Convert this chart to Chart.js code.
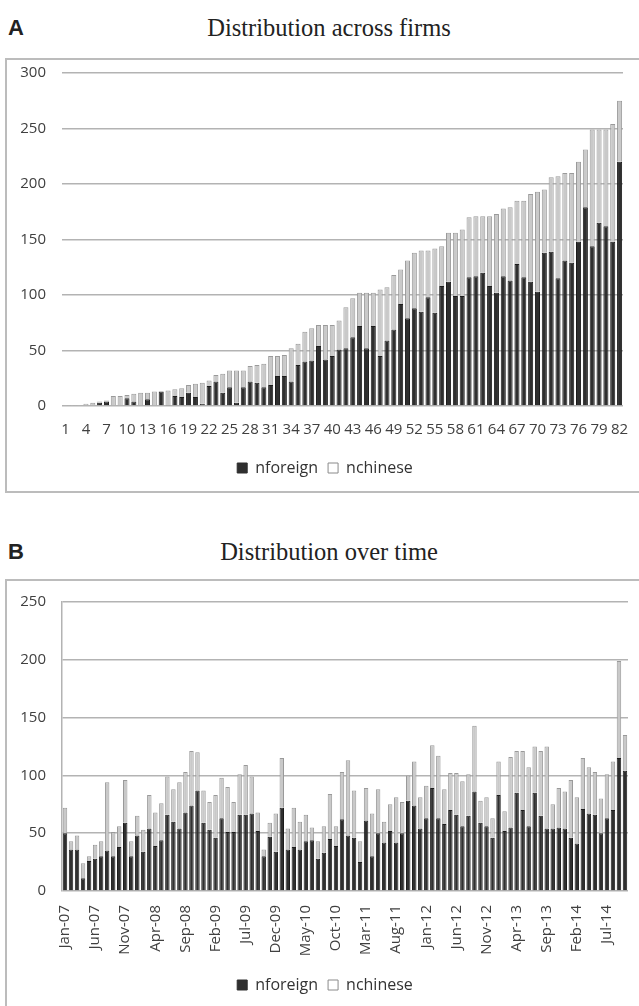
<!DOCTYPE html>
<html>
<head>
<meta charset="utf-8">
<script src="https://cdn.jsdelivr.net/npm/chart.js@4.4.0/dist/chart.umd.min.js"></script>
<style>
  body { margin: 0; background: #fff; width: 639px; height: 1006px; overflow: hidden; position: relative; }
  .letter { position: absolute; left: 8px; font: bold 22px "Liberation Sans", Arial, sans-serif; color: #222; line-height: 24px; }
  .title { position: absolute; left: 5px; width: 648px; text-align: center; font: 24.5px "Liberation Serif", "Times New Roman", serif; color: #222; line-height: 26px; }
  .frame { position: absolute; left: 5px; width: 700px; border: 2px solid #bcbcbc; box-sizing: border-box; }
  .box { position: absolute; left: 5px; width: 648px; }
</style>
</head>
<body>
<div class="letter" style="top:16px">A</div>
<div class="title" style="top:15px">Distribution across firms</div>
<div class="frame" style="top:58px;height:435px"></div>
<div class="box" style="top:58px;height:434px"><canvas id="chartA" width="648" height="434"></canvas></div>

<div class="letter" style="top:540px">B</div>
<div class="title" style="top:539px">Distribution over time</div>
<div class="frame" style="top:579px;height:500px"></div>
<div class="box" style="top:579px;height:427px"><canvas id="chartB" width="648" height="427"></canvas></div>

<script>
// Panel A: firms sorted by total count
const firmLabels = Array.from({ length: 82 }, (_, i) => String(i + 1));
const foreignA = [0, 0, 0, 0, 0, 3, 4, 0, 0, 7, 4, 0, 6, 0, 13, 1, 9, 8, 12, 8,
    2, 18, 22, 12, 17, 3, 17, 22, 21, 17, 19, 27, 27, 22, 37, 40, 41, 54, 42, 45,
    51, 52, 62, 72, 52, 72, 45, 59, 69, 92, 79, 88, 85, 98, 84, 108, 112, 99, 99, 116,
    117, 120, 108, 102, 117, 113, 128, 116, 112, 103, 138, 139, 115, 131, 129, 148, 179, 144, 165, 162,
    148, 220];
const chineseA = [1, 1, 1, 2, 3, 1, 1, 9, 9, 3, 7, 12, 6, 13, 0, 13, 6, 8, 7, 12,
    19, 5, 6, 17, 15, 29, 15, 14, 16, 21, 26, 18, 19, 30, 19, 27, 29, 19, 31, 28,
    26, 37, 35, 30, 50, 30, 60, 48, 49, 31, 52, 50, 55, 42, 58, 36, 44, 57, 60, 54,
    54, 51, 63, 71, 61, 66, 57, 69, 79, 90, 57, 67, 92, 79, 81, 72, 52, 105, 84, 87,
    106, 55];
const ticksA = [0, 50, 100, 150, 200, 250, 300];

// Panel B: monthly counts, Jan-07 .. Oct-14
const monthNames = ['Jan', 'Feb', 'Mar', 'Apr', 'May', 'Jun', 'Jul', 'Aug', 'Sep', 'Oct', 'Nov', 'Dec'];
const years = ['07', '08', '09', '10', '11', '12', '13', '14'];
const foreignB = [50, 36, 36, 11, 26, 28, 30, 35, 30, 38, 59, 30, 48, 34, 54, 39, 44, 66, 60, 54,
    68, 74, 87, 59, 53, 46, 63, 51, 51, 66, 66, 67, 52, 30, 47, 34, 72, 36, 38, 36,
    43, 44, 28, 33, 45, 39, 62, 48, 46, 25, 61, 30, 50, 42, 52, 42, 50, 78, 74, 54,
    63, 89, 63, 58, 70, 66, 56, 65, 86, 59, 56, 46, 83, 52, 55, 85, 70, 56, 85, 65,
    54, 54, 55, 54, 46, 41, 71, 67, 66, 50, 63, 70, 115, 104];
const chineseB = [22, 7, 12, 13, 4, 12, 13, 59, 21, 18, 37, 13, 17, 19, 29, 29, 32, 33, 28, 40,
    35, 47, 33, 28, 24, 37, 35, 39, 26, 35, 43, 32, 16, 6, 12, 33, 43, 18, 34, 24,
    23, 11, 15, 23, 39, 17, 41, 65, 41, 18, 28, 37, 38, 18, 23, 39, 27, 22, 38, 27,
    28, 37, 54, 30, 32, 36, 39, 36, 57, 19, 25, 17, 29, 17, 61, 36, 51, 51, 40, 56,
    71, 21, 34, 32, 50, 40, 44, 40, 37, 30, 38, 42, 84, 31];
const ticksB = [0, 50, 100, 150, 200, 250];

const monthLabels = [];
for (let y of years) {
    for (let m of monthNames) {
        if (monthLabels.length < foreignB.length) monthLabels.push(m + '-' + y);
    }
}

const darkFill = '#2f2f2f';
const lightFill = '#c9c9c9';
const gridColor = '#b3b3b3';
const tickFont = { family: 'Open Sans', size: 15 };

function legendLabels(chart) {
    const items = Chart.defaults.plugins.legend.labels.generateLabels(chart);
    items[0].fillStyle = darkFill;
    items[0].strokeStyle = darkFill;
    items[1].fillStyle = '#ffffff';
    items[1].strokeStyle = '#8a8a8a';
    items.forEach(it => { it.lineWidth = 1; });
    return items;
}

function makeDatasets(foreign, chinese) {
    return [
        {
            label: 'nforeign',
            data: foreign,
            backgroundColor: darkFill,
            borderColor: '#1c1c1c',
            borderWidth: 1,
            stack: 's'
        },
        {
            label: 'nchinese',
            data: chinese,
            backgroundColor: lightFill,
            borderColor: '#9a9a9a',
            borderWidth: 1,
            stack: 's'
        }
    ];
}

// the y tick padding should only push labels sideways, not shrink the plot vertically
function fixYAxis(s) {
    s.width = 57;
    s.paddingTop = 0;
    s.paddingBottom = 0;
}

var chartA = new Chart(document.getElementById('chartA').getContext('2d'), {
    type: 'bar',
    data: { labels: firmLabels, datasets: makeDatasets(foreignA, chineseA) },
    options: {
        responsive: false,
        animation: false,
        barPercentage: 0.74,
        categoryPercentage: 1,
        layout: { padding: { top: 15, right: 8, bottom: 6, left: 0 } },
        scales: {
            x: {
                stacked: true,
                grid: { display: false },
                border: { display: false },
                ticks: {
                    autoSkip: false, maxRotation: 0, minRotation: 0, padding: 7,
                    font: tickFont, color: '#404040',
                    callback: (v, i) => (i % 3 === 0 ? firmLabels[i] : '')
                },
                afterFit: s => { s.height = 44; s.paddingRight = 30; }
            },
            y: {
                stacked: true,
                min: 0,
                max: 300,
                afterBuildTicks: s => { s.ticks = ticksA.map(v => ({ value: v })); },
                grid: { color: gridColor, lineWidth: 1.5, drawTicks: false },
                border: { display: false },
                ticks: { padding: 16, font: tickFont, color: '#404040' },
                afterFit: fixYAxis
            }
        },
        plugins: {
            legend: {
                position: 'bottom',
                labels: {
                    boxWidth: 10, boxHeight: 10, padding: 10,
                    font: { family: 'Open Sans', size: 16 }, color: '#333',
                    generateLabels: legendLabels
                }
            },
            tooltip: { enabled: false }
        }
    }
});

var chartB = new Chart(document.getElementById('chartB').getContext('2d'), {
    type: 'bar',
    data: { labels: monthLabels, datasets: makeDatasets(foreignB, chineseB) },
    options: {
        responsive: false,
        animation: false,
        barPercentage: 0.74,
        categoryPercentage: 1,
        layout: { padding: { top: 23, right: 8, bottom: 3, left: 0 } },
        scales: {
            x: {
                stacked: true,
                grid: { display: false },
                border: { display: false },
                ticks: {
                    autoSkip: false, maxRotation: 90, minRotation: 90, padding: 6,
                    font: tickFont, color: '#404040',
                    callback: (v, i) => (i % 5 === 0 ? monthLabels[i] : '')
                },
                afterFit: s => { s.height = 76; s.paddingRight = 25; }
            },
            y: {
                stacked: true,
                min: 0,
                max: 250,
                afterBuildTicks: s => { s.ticks = ticksB.map(v => ({ value: v })); },
                grid: { color: gridColor, lineWidth: 1.5, drawTicks: false },
                border: { display: true, color: gridColor, width: 1.5 },
                ticks: { padding: 16, font: tickFont, color: '#404040' },
                afterFit: fixYAxis
            }
        },
        plugins: {
            legend: {
                position: 'bottom',
                labels: {
                    boxWidth: 10, boxHeight: 10, padding: 10,
                    font: { family: 'Open Sans', size: 16 }, color: '#333',
                    generateLabels: legendLabels
                }
            },
            tooltip: { enabled: false }
        }
    }
});
</script>
</body>
</html>
